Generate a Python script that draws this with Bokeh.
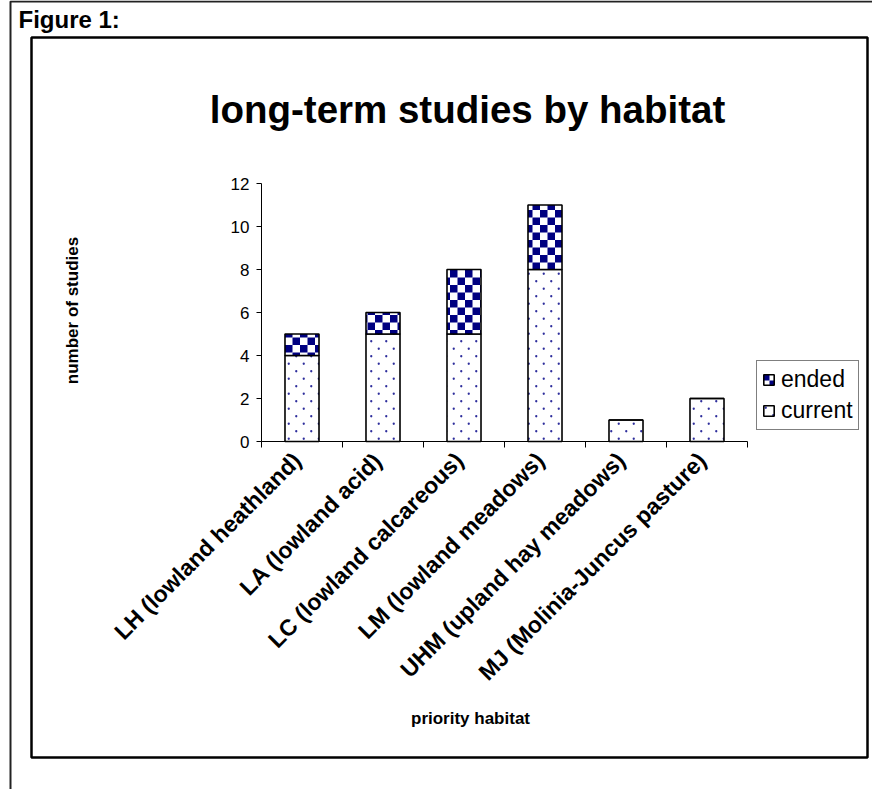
import base64
import math
from bokeh.plotting import figure
from bokeh.models import (Range1d, FixedTicker, Label, BoxAnnotation, Legend, LegendItem,
                          ImageURLTexture)
from bokeh.core.properties import value
from bokeh.embed import file_html
from bokeh.resources import INLINE

# ---- data ----
categories = ["LH (lowland heathland)", "LA (lowland acid)", "LC (lowland calcareous)",
              "LM (lowland meadows)", "UHM (upland hay meadows)", "MJ (Molinia-Juncus pasture)"]
current = [4, 5, 5, 8, 1, 2]
ended = [1, 1, 3, 3, 0, 0]
y_ticks = [0, 2, 4, 6, 8, 10, 12]

FONT = "Liberation Sans"
W, H = 872, 789
# pixel placement of the data area (x: 0..6, y: 0..12)
PX0, PX1 = 261, 747
PY0, PY1 = 441, 183
ux = (PX1 - PX0) / len(categories)
uy = (PY0 - PY1) / 12.0

x_range = Range1d(-PX0 / ux, len(categories) + (W - PX1) / ux)
y_range = Range1d(-(H - PY0) / uy, 12 + PY1 / uy)


def sx(cx):
    return cx


def sy(cy):
    return H - cy


def svg_uri(s):
    return "data:image/svg+xml;base64," + base64.b64encode(s.encode()).decode()


checker_tex = ImageURLTexture(url=svg_uri(
    '<svg xmlns="http://www.w3.org/2000/svg" width="15" height="15" viewBox="0 0 15 15">'
    '<rect width="15" height="15" fill="#ffffff"/>'
    '<rect width="7.5" height="7.5" fill="#000080"/>'
    '<rect x="7.5" y="7.5" width="7.5" height="7.5" fill="#000080"/></svg>'))
dots_tex = ImageURLTexture(url=svg_uri(
    '<svg xmlns="http://www.w3.org/2000/svg" width="15" height="15" viewBox="0 0 15 15">'
    '<circle cx="3.75" cy="3.75" r="1.15" fill="#2e2e9c"/>'
    '<circle cx="11.25" cy="11.25" r="1.15" fill="#2e2e9c"/></svg>'))

p = figure(width=W, height=H, output_backend="svg", toolbar_location=None,
           x_range=x_range, y_range=y_range,
           min_border_left=0, min_border_top=0, min_border_right=0, min_border_bottom=0)
p.outline_line_color = None
p.grid.visible = False
p.background_fill_color = "white"
p.border_fill_color = "white"

xs = [i + 0.5 for i in range(len(categories))]
tops = [c + e for c, e in zip(current, ended)]

r_cur = p.vbar(x=xs, width=0.42, bottom=0, top=current, fill_color="white",
               line_color="black", line_width=1.6,
               hatch_pattern=value("dots"), hatch_extra={"dots": dots_tex})
r_end = p.vbar(x=xs, width=0.42, bottom=current, top=tops, fill_color="white",
               line_color="black", line_width=1.6,
               hatch_pattern=value("checker"), hatch_extra={"checker": checker_tex})

# axes (fixed inside the full-canvas frame)
ya = p.yaxis[0]
ya.fixed_location = 0
ya.bounds = (0, 12)
ya.ticker = FixedTicker(ticks=y_ticks)
ya.major_tick_out = 5
ya.major_tick_in = 0
ya.minor_tick_line_color = None
ya.axis_line_color = "black"
ya.major_tick_line_color = "black"
ya.major_label_text_font = FONT
ya.major_label_text_font_size = "17px"
ya.major_label_text_color = "black"
ya.major_label_standoff = 7

# label anchors slightly left of bar centres so the rotated text ends over each bar
label_pos = [x - 0.06 for x in xs]
xa = p.xaxis[0]
xa.fixed_location = 0
xa.bounds = (0, len(categories))
xa.ticker = FixedTicker(ticks=label_pos, minor_ticks=list(range(len(categories) + 1)))
xa.major_label_overrides = {x: c for x, c in zip(label_pos, categories)}
xa.major_tick_line_color = None
xa.major_tick_out = 0
xa.major_tick_in = 0
xa.minor_tick_line_color = "black"
xa.minor_tick_out = 6
xa.minor_tick_in = 0
xa.axis_line_color = "black"
xa.major_label_orientation = math.pi / 4
xa.major_label_text_font = FONT
xa.major_label_text_font_style = "bold"
xa.major_label_text_font_size = "23px"
xa.major_label_text_color = "black"
xa.major_label_standoff = 9

# frames
p.add_layout(BoxAnnotation(left=sx(10), right=sx(W + 40), top=sy(1), bottom=sy(H + 40),
                           left_units="screen", right_units="screen",
                           top_units="screen", bottom_units="screen",
                           fill_alpha=0, line_color="#222222", line_alpha=1, line_width=2))
p.add_layout(BoxAnnotation(left=sx(31), right=sx(867), top=sy(37), bottom=sy(757),
                           left_units="screen", right_units="screen",
                           top_units="screen", bottom_units="screen",
                           fill_alpha=0, line_color="black", line_alpha=1, line_width=2.5))

# texts
p.add_layout(Label(x=sx(18), y=sy(19), x_units="screen", y_units="screen",
                   text="Figure 1:", text_font=FONT, text_font_style="bold", text_color="black",
                   text_font_size="24px", text_align="left", text_baseline="alphabetic"))
p.add_layout(Label(x=sx(467), y=sy(109), x_units="screen", y_units="screen",
                   text="long-term studies by habitat", text_font=FONT, text_font_style="bold",
                   text_color="black",
                   text_font_size="38.5px", text_align="center", text_baseline="alphabetic"))
p.add_layout(Label(x=sx(72), y=sy(310), x_units="screen", y_units="screen",
                   text="number of studies", text_font=FONT, text_font_style="bold",
                   text_color="black",
                   text_font_size="17px", text_align="center", text_baseline="middle",
                   angle=math.pi / 2))
p.add_layout(Label(x=sx(470), y=sy(718), x_units="screen", y_units="screen",
                   text="priority habitat", text_font=FONT, text_font_style="bold",
                   text_color="black",
                   text_font_size="17px", text_align="center", text_baseline="middle"))

legend = Legend(items=[LegendItem(label="ended", renderers=[r_end]),
                       LegendItem(label="current", renderers=[r_cur])],
                location=(sx(756), sy(430)), orientation="vertical")
legend.label_text_font = FONT
legend.label_text_font_size = "23px"
legend.label_text_color = "black"
legend.label_height = 24
legend.glyph_width = 13
legend.glyph_height = 13
legend.label_standoff = 6
legend.padding = 5
legend.spacing = 4
legend.margin = 0
legend.border_line_color = "black"
legend.border_line_width = 1
legend.background_fill_color = "white"
legend.background_fill_alpha = 1
p.add_layout(legend, "center")

open("out.html", "w").write(file_html(p, INLINE))
